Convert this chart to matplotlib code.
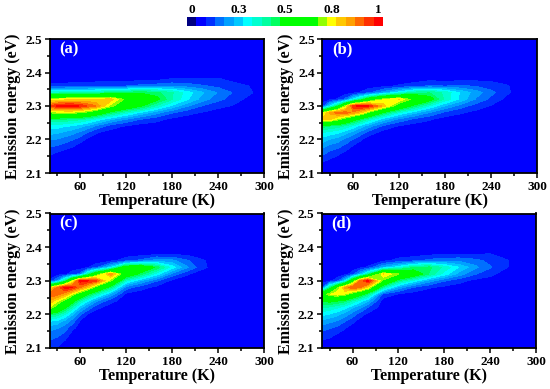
import numpy as np
import matplotlib
matplotlib.use("Agg")
import matplotlib.pyplot as plt
from matplotlib.colors import ListedColormap, BoundaryNorm

plt.rcParams['font.family'] = ['Liberation Serif', 'DejaVu Serif']
plt.rcParams['font.weight'] = 'bold'

W, H = 550, 389

# ---------------- DATA ----------------
temps = [20, 30, 40, 50, 60, 70, 80, 100, 120, 140, 160, 180, 200, 220, 240, 260, 280, 300]
energies = [2.10, 2.12, 2.14, 2.16, 2.18, 2.20, 2.22, 2.24, 2.26, 2.28, 2.30, 2.32, 2.34, 2.36, 2.38, 2.40]

# intensity in percent, one row per temperature, one column per energy
panel_a = [
    [5, 5, 5, 9, 13, 18, 24, 30, 42, 68, 92, 72, 35, 9, 5, 5],
    [5, 5, 5, 7, 12, 17, 23, 30, 42, 70, 98, 74, 35, 9, 5, 5],
    [5, 5, 5, 5, 10, 15, 21, 28, 41, 70, 100, 75, 36, 9, 5, 5],
    [5, 5, 5, 5, 8, 13, 19, 27, 40, 70, 100, 76, 36, 10, 5, 5],
    [5, 5, 5, 5, 5, 10, 16, 24, 38, 68, 97, 76, 36, 10, 5, 5],
    [5, 5, 5, 5, 5, 6, 12, 21, 35, 64, 92, 77, 37, 10, 5, 5],
    [5, 5, 5, 5, 5, 5, 8, 17, 31, 58, 88, 78, 38, 11, 5, 5],
    [5, 5, 5, 5, 5, 5, 5, 10, 23, 44, 70, 80, 42, 11, 5, 5],
    [5, 5, 5, 5, 5, 5, 5, 7, 17, 34, 58, 65, 45, 12, 5, 5],
    [5, 5, 5, 5, 5, 5, 5, 5, 12, 26, 48, 60, 46, 14, 6, 5],
    [5, 5, 5, 5, 5, 5, 5, 5, 9, 19, 36, 50, 44, 15, 6, 5],
    [5, 5, 5, 5, 5, 5, 5, 5, 6, 13, 26, 38, 38, 16, 8, 5],
    [5, 5, 5, 5, 5, 5, 5, 5, 5, 9, 18, 28, 30, 15, 8, 5],
    [5, 5, 5, 5, 5, 5, 5, 5, 5, 7, 12, 20, 23, 13, 8, 5],
    [5, 5, 5, 5, 5, 5, 5, 5, 5, 5, 9, 14, 17, 11, 8, 5],
    [5, 5, 5, 5, 5, 5, 5, 5, 5, 5, 7, 10, 12, 9.5, 6, 5],
    [5, 5, 5, 5, 5, 5, 5, 5, 5, 5, 5, 6, 8.5, 7.5, 5, 5],
    [5, 5, 5, 5, 5, 5, 5, 5, 5, 5, 5, 5, 5, 5, 5, 5],
]
panel_b = [
    [5, 5, 9, 14, 19, 25, 32, 45, 78, 70, 10, 5, 5, 5, 5, 5],
    [5, 5, 7, 11, 16, 22, 30, 42, 78, 84, 28, 6, 5, 5, 5, 5],
    [5, 5, 5, 9, 14, 20, 28, 40, 70, 90, 45, 8, 5, 5, 5, 5],
    [5, 5, 5, 6, 11, 16, 24, 36, 62, 90, 70, 14, 5, 5, 5, 5],
    [5, 5, 5, 5, 7, 12, 20, 31, 52, 86, 96, 28, 6, 5, 5, 5],
    [5, 5, 5, 5, 5, 8, 15, 25, 44, 78, 100, 40, 8, 5, 5, 5],
    [5, 5, 5, 5, 5, 5, 10, 20, 36, 66, 98, 55, 11, 5, 5, 5],
    [5, 5, 5, 5, 5, 5, 5, 11, 24, 46, 80, 72, 20, 6, 5, 5],
    [5, 5, 5, 5, 5, 5, 5, 7, 16, 32, 60, 78, 30, 8, 5, 5],
    [5, 5, 5, 5, 5, 5, 5, 5, 11, 24, 44, 64, 40, 10, 5, 5],
    [5, 5, 5, 5, 5, 5, 5, 5, 8, 17, 32, 52, 42, 13, 6, 5],
    [5, 5, 5, 5, 5, 5, 5, 5, 5, 11, 22, 36, 36, 12, 5, 5],
    [5, 5, 5, 5, 5, 5, 5, 5, 5, 8, 15, 26, 27, 13, 6, 5],
    [5, 5, 5, 5, 5, 5, 5, 5, 5, 6, 10, 17, 20, 12, 6, 5],
    [5, 5, 5, 5, 5, 5, 5, 5, 5, 5, 7, 11, 14, 10, 6, 5],
    [5, 5, 5, 5, 5, 5, 5, 5, 5, 5, 5, 6, 8.5, 8, 5, 5],
    [5, 5, 5, 5, 5, 5, 5, 5, 5, 5, 5, 5, 5, 5, 5, 5],
    [5, 5, 5, 5, 5, 5, 5, 5, 5, 5, 5, 5, 5, 5, 5, 5],
]
panel_c = [
    [8, 12, 15, 20, 28, 45, 72, 82, 92, 72, 8, 5, 5, 5, 5, 5],
    [7, 10, 14, 18, 26, 40, 62, 74, 90, 88, 18, 5, 5, 5, 5, 5],
    [5, 7, 11, 15, 21, 33, 50, 65, 84, 100, 40, 6, 5, 5, 5, 5],
    [5, 5, 5, 9, 15, 23, 36, 52, 72, 98, 70, 10, 5, 5, 5, 5],
    [5, 5, 5, 5, 7, 13, 24, 38, 60, 88, 100, 14, 5, 5, 5, 5],
    [5, 5, 5, 5, 5, 7, 16, 28, 48, 78, 98, 38, 7, 5, 5, 5],
    [5, 5, 5, 5, 5, 5, 9, 19, 38, 64, 95, 58, 10, 5, 5, 5],
    [5, 5, 5, 5, 5, 5, 5, 9, 21, 42, 68, 86, 26, 6, 5, 5],
    [5, 5, 5, 5, 5, 5, 5, 5, 6, 15, 34, 58, 56, 10, 5, 5],
    [5, 5, 5, 5, 5, 5, 5, 5, 5, 9, 22, 44, 58, 14, 5, 5],
    [5, 5, 5, 5, 5, 5, 5, 5, 5, 6, 13, 30, 46, 20, 6, 5],
    [5, 5, 5, 5, 5, 5, 5, 5, 5, 5, 6, 16, 30, 19, 6, 5],
    [5, 5, 5, 5, 5, 5, 5, 5, 5, 5, 5, 8, 18, 13, 6, 5],
    [5, 5, 5, 5, 5, 5, 5, 5, 5, 5, 5, 5, 8.5, 8, 5, 5],
    [5, 5, 5, 5, 5, 5, 5, 5, 5, 5, 5, 5, 5, 5, 5, 5],
    [5, 5, 5, 5, 5, 5, 5, 5, 5, 5, 5, 5, 5, 5, 5, 5],
    [5, 5, 5, 5, 5, 5, 5, 5, 5, 5, 5, 5, 5, 5, 5, 5],
    [5, 5, 5, 5, 5, 5, 5, 5, 5, 5, 5, 5, 5, 5, 5, 5],
]
panel_d = [
    [5, 7, 10, 15, 21, 29, 38, 48, 60, 12, 5, 5, 5, 5, 5, 5],
    [5, 6, 9, 13, 19, 27, 36, 50, 72, 40, 6, 5, 5, 5, 5, 5],
    [5, 5, 7, 11, 17, 24, 33, 48, 76, 66, 10, 5, 5, 5, 5, 5],
    [5, 5, 5, 8, 13, 20, 29, 44, 72, 84, 26, 5, 5, 5, 5, 5],
    [5, 5, 5, 5, 9, 15, 23, 37, 62, 92, 58, 10, 5, 5, 5, 5],
    [5, 5, 5, 5, 5, 10, 18, 30, 52, 88, 88, 22, 6, 5, 5, 5],
    [5, 5, 5, 5, 5, 6, 12, 23, 42, 76, 100, 38, 8, 5, 5, 5],
    [5, 5, 5, 5, 5, 5, 5, 5, 11, 38, 66, 78, 22, 6, 5, 5],
    [5, 5, 5, 5, 5, 5, 5, 5, 7, 20, 42, 68, 30, 9, 5, 5],
    [5, 5, 5, 5, 5, 5, 5, 5, 5, 12, 30, 56, 42, 11, 5, 5],
    [5, 5, 5, 5, 5, 5, 5, 5, 5, 8, 20, 42, 44, 14, 6, 5],
    [5, 5, 5, 5, 5, 5, 5, 5, 5, 6, 13, 30, 36, 16, 6.5, 5],
    [5, 5, 5, 5, 5, 5, 5, 5, 5, 5, 9, 20, 27, 16, 7, 5],
    [5, 5, 5, 5, 5, 5, 5, 5, 5, 5, 6, 13, 19, 14, 7, 5],
    [5, 5, 5, 5, 5, 5, 5, 5, 5, 5, 5, 9, 13, 11, 7.5, 5],
    [5, 5, 5, 5, 5, 5, 5, 5, 5, 5, 5, 5, 8, 8.2, 5, 5],
    [5, 5, 5, 5, 5, 5, 5, 5, 5, 5, 5, 5, 5, 5, 5, 5],
    [5, 5, 5, 5, 5, 5, 5, 5, 5, 5, 5, 5, 5, 5, 5, 5],
]

panel_names = ["(a)", "(b)", "(c)", "(d)"]
panel_data = [panel_a, panel_b, panel_c, panel_d]
x_ticks = [60, 120, 180, 240, 300]
y_ticks = [2.1, 2.2, 2.3, 2.4, 2.5]
bar_ticks = [0, 0.25, 0.5, 0.75, 1]
bar_labels = ["0", "0.3", "0.5", "0.8", "1"]

# ---------------- COLORS ----------------
level_colors = ["#000080", "#0000ff", "#0030ff", "#0070ff", "#00a0ff", "#00c8ff", "#00ffff",
                "#00ffd0", "#00ffa0", "#00ff60", "#00ff00", "#00ff00", "#00ff00", "#00ff00",
                "#90ff00", "#ffff00", "#ffc800", "#ffa000", "#ff6800", "#ff3000", "#ff0000"]
cmap = ListedColormap(level_colors)
bounds = np.arange(-0.025, 1.03, 0.05)
norm = BoundaryNorm(bounds, cmap.N)

# axes boxes in pixels: left, right, top, bottom
boxes = [(49.5, 264, 39, 173), (322.5, 537, 39, 173),
         (49.5, 264, 213.5, 348), (322, 536, 213.5, 348)]


def px_axes(fig, left, right, top, bottom):
    return fig.add_axes([left / W, 1 - bottom / H, (right - left) / W, (bottom - top) / H])


fig = plt.figure(figsize=(W / 100, H / 100), dpi=100)

for box, name, data in zip(boxes, panel_names, panel_data):
    ax = px_axes(fig, *box)
    z = np.array(data).T / 100
    ax.set_facecolor("#0000ff")
    ax.contourf(temps, energies, z, levels=bounds, cmap=cmap, norm=norm)
    ax.set_xlim(20, 300)
    ax.set_ylim(2.1, 2.5)
    ax.set_xticks(x_ticks)
    ax.set_xticks([30, 90, 150, 210, 270], minor=True)
    ax.set_yticks(y_ticks)
    ax.set_yticks([2.15, 2.25, 2.35, 2.45], minor=True)
    ax.set_yticklabels([f"{t:.1f}" for t in y_ticks])
    ax.tick_params(which='major', length=3.5, width=1.1, labelsize=9.5, pad=2)
    ax.tick_params(which='minor', length=2, width=1.1)
    for s in ax.spines.values():
        s.set_linewidth(1.3)
    ax.set_xlabel("Temperature (K)", fontsize=11.5, fontweight='bold', labelpad=0)
    ax.set_ylabel("Emission energy (eV)", fontsize=11.5, fontweight='bold', labelpad=3)
    ax.text(0.045, 0.925, name, transform=ax.transAxes, color="white", fontsize=12,
            fontweight='bold', va='center', ha='left')

# ---------------- COLOR BAR ----------------
cax = px_axes(fig, 187, 383, 17, 26)
level_values = 0.05 * np.arange(21)
cax.pcolormesh(bounds, [0, 1], level_values[None, :], cmap=cmap, norm=norm)
cax.set_yticks([])
cax.set_xlim(bounds[0], bounds[-1])
cax.xaxis.tick_top()
cax.set_xticks(bar_ticks)
cax.set_xticklabels(bar_labels)
cax.tick_params(axis='x', length=0, labelsize=9.5, pad=1)
for s in cax.spines.values():
    s.set_visible(False)

fig.savefig("out.png", dpi=100)
